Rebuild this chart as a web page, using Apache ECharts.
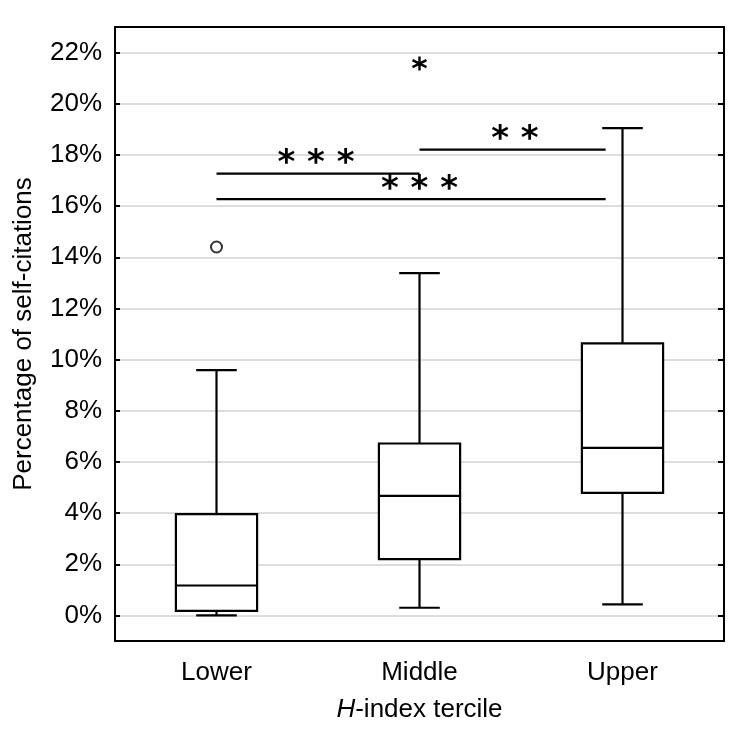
<!DOCTYPE html>
<html>
<head>
<meta charset="utf-8">
<script src="https://cdn.jsdelivr.net/npm/echarts@6/dist/echarts.min.js"></script>
<style>
  html, body { margin: 0; padding: 0; background: #fff; }
  #main { width: 734px; height: 734px; }
</style>
</head>
<body>
<div id="main"></div>
<script>
// data (percent)
const categories = ['Lower', 'Middle', 'Upper'];
const whiskerLow = [0, 0.3, 0.43];
const q1 = [0.18, 2.2, 4.79];
const median = [1.17, 4.67, 6.55];
const q3 = [3.96, 6.72, 10.63];
const whiskerHigh = [9.59, 13.38, 19.05];
const outlierCircle = [[0, 14.4]];   // [category index, value]
const outlierStar = [[1, 21.57]];
const yTicks = [0, 2, 4, 6, 8, 10, 12, 14, 16, 18, 20, 22];

// significance brackets: from / to (category position), height, label
const sigFrom = [0, 1, 0];
const sigTo = [1, 1.917, 1.917];
const sigY = [17.27, 18.21, 16.27];
const sigLabel = ['* * *', '* *', '* * *'];
const sigLabelX = [0.49, 1.47, 1.0];
const sigLabelY = [17.62, 18.56, 16.62];

const font = 'Liberation Sans, Arial, sans-serif';
const chart = echarts.init(document.getElementById('main'));

const boxData = categories.map((c, i) => [i, whiskerLow[i], q1[i], median[i], q3[i], whiskerHigh[i]]);
const sigData = sigY.map((y, i) => [sigFrom[i], sigTo[i], y, sigLabelX[i], sigLabelY[i]]);

const frameLine = { onZero: false, lineStyle: { color: '#000', width: 2 } };

const option = {
  animation: false,
  grid: { left: 115, right: 10, top: 27, bottom: 93 },
  xAxis: [
    {
      type: 'category',
      data: categories,
      position: 'bottom',
      axisLine: frameLine,
      axisTick: { inside: true, length: 5, alignWithLabel: true, lineStyle: { color: '#000', width: 2 } },
      axisLabel: { color: '#000', fontSize: 26, fontFamily: font, margin: 19 },
      name: '{i|H}-index tercile',
      nameLocation: 'middle',
      nameGap: 56,
      nameTextStyle: {
        color: '#000', fontSize: 26, fontFamily: font,
        rich: { i: { fontStyle: 'italic', fontSize: 26, fontFamily: font, color: '#000' } }
      }
    },
    {
      type: 'category',
      data: categories,
      position: 'top',
      axisLine: frameLine,
      axisTick: { inside: true, length: 5, alignWithLabel: true, lineStyle: { color: '#000', width: 2 } },
      axisLabel: { show: false }
    },
    {
      // hidden helper axis for the brackets
      type: 'value',
      min: -0.5,
      max: 2.5,
      show: false,
      axisLine: { onZero: false }
    }
  ],
  yAxis: [
    {
      type: 'value',
      min: -1,
      max: 23,
      position: 'left',
      axisLine: Object.assign({ show: true }, frameLine),
      axisTick: { show: true, inside: true, length: 5, customValues: yTicks, lineStyle: { color: '#000', width: 2 } },
      axisLabel: { color: '#000', fontSize: 26, fontFamily: font, margin: 13, customValues: yTicks, formatter: v => v + '%' },
      splitLine: { show: true, lineStyle: { color: '#d2d2d2', width: 1.5 } },
      name: 'Percentage of self-citations',
      nameLocation: 'middle',
      nameGap: 78,
      nameTextStyle: { color: '#000', fontSize: 26, fontFamily: font }
    },
    {
      type: 'value',
      min: -1,
      max: 23,
      position: 'right',
      axisLine: Object.assign({ show: true }, frameLine),
      axisTick: { show: true, inside: true, length: 6, customValues: yTicks, lineStyle: { color: '#000', width: 2 } },
      axisLabel: { show: false },
      splitLine: { show: false }
    }
  ],
  series: [
    {
      type: 'custom',
      xAxisIndex: 0,
      yAxisIndex: 0,
      data: boxData,
      renderItem: function (params, api) {
        const idx = api.value(0);
        const band = api.size([1, 0])[0];
        const boxHalf = band * 0.2;
        const capHalf = band * 0.1;
        const lo = api.coord([idx, api.value(1)]);
        const b1 = api.coord([idx, api.value(2)]);
        const md = api.coord([idx, api.value(3)]);
        const b3 = api.coord([idx, api.value(4)]);
        const hi = api.coord([idx, api.value(5)]);
        const x = lo[0];
        const st = { stroke: '#000', lineWidth: 2.2, fill: null };
        return {
          type: 'group',
          children: [
            { type: 'line', shape: { x1: x, y1: lo[1], x2: x, y2: b1[1] }, style: st },
            { type: 'line', shape: { x1: x, y1: b3[1], x2: x, y2: hi[1] }, style: st },
            { type: 'line', shape: { x1: x - capHalf, y1: lo[1], x2: x + capHalf, y2: lo[1] }, style: st },
            { type: 'line', shape: { x1: x - capHalf, y1: hi[1], x2: x + capHalf, y2: hi[1] }, style: st },
            { type: 'rect', shape: { x: x - boxHalf, y: b3[1], width: boxHalf * 2, height: b1[1] - b3[1] },
              style: { stroke: '#000', lineWidth: 2.2, fill: '#fff' } },
            { type: 'line', shape: { x1: x - boxHalf, y1: md[1], x2: x + boxHalf, y2: md[1] }, style: st }
          ]
        };
      }
    },
    {
      type: 'scatter',
      xAxisIndex: 0,
      yAxisIndex: 0,
      data: outlierCircle,
      symbol: 'circle',
      symbolSize: 11,
      itemStyle: { color: '#fff', borderColor: '#000', borderWidth: 2 }
    },
    {
      type: 'scatter',
      xAxisIndex: 0,
      yAxisIndex: 0,
      data: outlierStar,
      symbol: 'path://M0,-10L0,10M-8.66,-5L8.66,5M-8.66,5L8.66,-5',
      symbolSize: 14,
      itemStyle: { color: 'none', borderColor: '#000', borderWidth: 2.4, opacity: 1 }
    },
    {
      type: 'custom',
      xAxisIndex: 2,
      yAxisIndex: 0,
      data: sigData,
      renderItem: function (params, api) {
        const a = api.coord([api.value(0), api.value(2)]);
        const b = api.coord([api.value(1), api.value(2)]);
        const t = api.coord([api.value(3), api.value(4)]);
        return {
          type: 'group',
          children: [
            { type: 'line', shape: { x1: a[0], y1: a[1], x2: b[0], y2: b[1] }, style: { stroke: '#000', lineWidth: 2.2 } },
            { type: 'text', x: t[0], y: t[1],
              style: { text: sigLabel[params.dataIndex], fill: '#000', font: 'bold 34px DejaVu Sans',
                       align: 'center', verticalAlign: 'middle' } }
          ]
        };
      }
    }
  ]
};

chart.setOption(option);
</script>
</body>
</html>
